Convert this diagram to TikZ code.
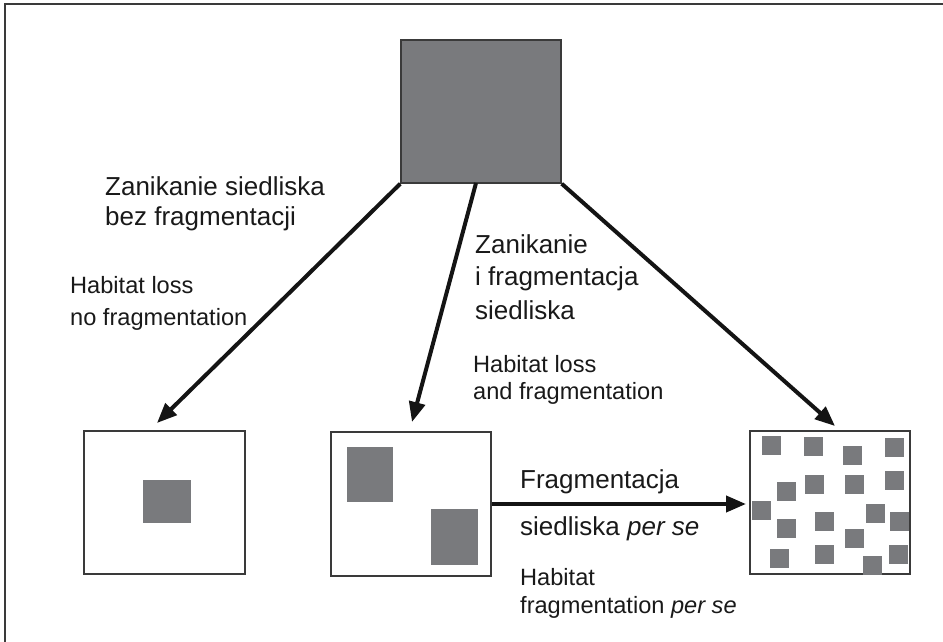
\documentclass[tikz,border=0pt]{standalone}
\usepackage{fontspec}
\setmainfont{Liberation Sans}
\usetikzlibrary{arrows.meta,calc}
\definecolor{patchgray}{HTML}{797A7D}
\definecolor{edgegray}{HTML}{3A3A3A}
\begin{document}
\begin{tikzpicture}[x=1pt,y=-1pt,
  box/.style={draw=edgegray, line width=2.5pt, fill=white, inner sep=0pt},
  patch/.style={fill=patchgray, draw=none, inner sep=0pt},
  sq/.style={patch, minimum size=19pt},
  arr/.style={line width=4pt, draw=black!92, -{Triangle[length=20pt,width=16pt]}},
  pl/.style={font=\fontsize{26}{30}\selectfont, anchor=base west, inner sep=0pt, text=black!90},
  en/.style={font=\fontsize{23.6}{27}\selectfont, anchor=base west, inner sep=0pt, text=black!90}]
\useasboundingbox (0,0) rectangle (943,642);
% outer frame (top and left edges)
\draw[edgegray, line width=1.5pt] (5,642) -- (5,4) -- (943,4);

% source habitat
\node[patch, draw=edgegray, line width=1.5pt, minimum width=160pt, minimum height=143pt] (src) at (481,111.5) {};

% result boxes
\node[box, minimum width=161pt, minimum height=143pt] (b1) at (164.5,502.5) {};
\node[box, minimum width=160pt, minimum height=144pt] (b2) at (411,504) {};
\node[box, minimum width=160pt, minimum height=143pt] (b3) at (830,502.5) {};

% patches in b1 and b2
\node[patch, minimum width=48pt, minimum height=43pt] (p1a) at (167,501.5) {};
\node[patch, minimum width=46pt, minimum height=55pt] (p2a) at (370,474.5) {};
\node[patch, minimum width=47pt, minimum height=56pt] (p2b) at (454.5,537) {};

% patches in b3
\foreach \i/\x/\y in {1/771.5/445.5, 2/813.5/446.5, 3/852/455, 4/894.5/447.5,
  5/786.5/491, 6/814.5/484.5, 7/854.5/484.5, 8/894.5/480.5,
  9/761/510, 10/786.5/528.5, 11/824.5/521.5, 12/875.5/513.5,
  13/899.5/521.5, 14/854.5/538.5, 15/779.5/558, 16/824.5/554.5,
  17/872.5/565, 18/898.5/554}
  \node[sq] (q\i) at (\x,\y) {};

% arrow end points
\coordinate (t1) at (157,423);
\coordinate (t2) at (412,422);
\coordinate (t3) at (835,426);
\coordinate (t4) at (746,504);
\coordinate (s2) at (476,183);

\draw[arr] (src.south west) -- (t1);
\draw[arr] (s2) -- (t2);
\draw[arr] (src.south east) -- (t3);
\draw[arr] (b2.east) -- (t4);

% labels
\node[pl] (l1a) at (105,195) {Zanikanie siedliska};
\node[pl] (l1b) at (105,225) {bez fragmentacji};
\node[en] (e1a) at (70,293) {Habitat loss};
\node[en] (e1b) at (70,325) {no fragmentation};

\node[pl] (l2a) at (475,253) {Zanikanie};
\node[pl] (l2b) at (475,285) {i fragmentacja};
\node[pl] (l2c) at (475,319) {siedliska};
\node[en] (e2a) at (473,372) {Habitat loss};
\node[en] (e2b) at (473,399) {and fragmentation};

\node[pl] (l3a) at (520,488) {Fragmentacja};
\node[pl] (l3b) at (520,535) {siedliska \textit{per se}};
\node[en] (e3a) at (520,585) {Habitat};
\node[en] (e3b) at (520,613) {fragmentation \textit{per se}};
\end{tikzpicture}
\end{document}
